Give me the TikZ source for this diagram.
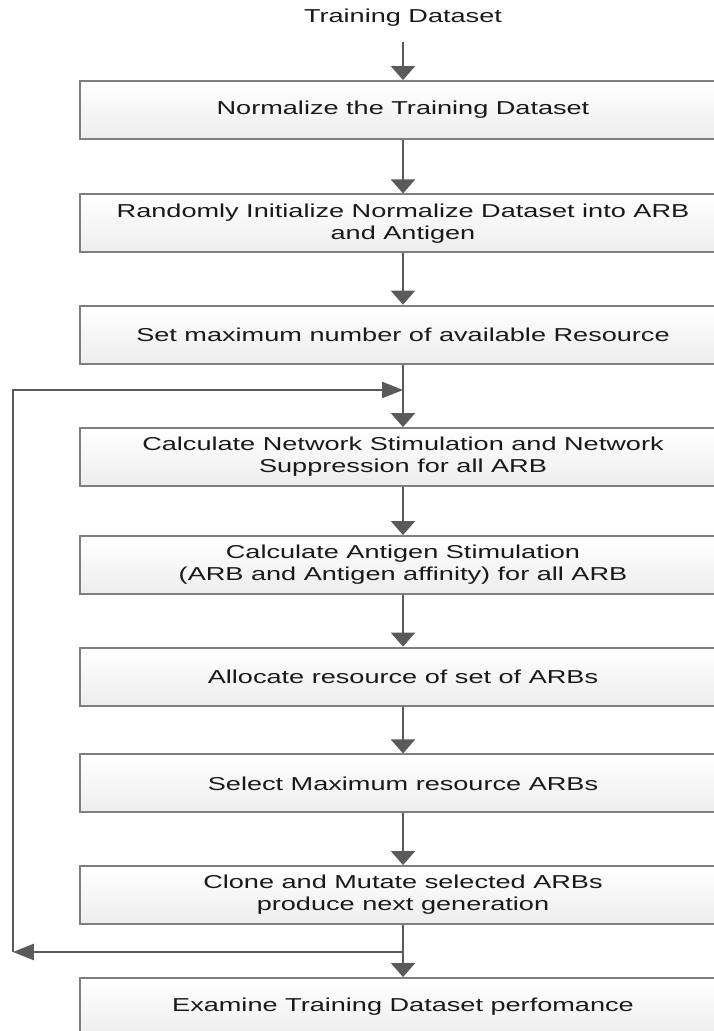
\documentclass[tikz,border=0pt]{standalone}
\usepackage{fontspec}
\setmainfont{Liberation Sans}[FakeStretch=1.45]
\usetikzlibrary{arrows.meta,shadings}
\definecolor{linegray}{HTML}{5A5A5A}
\definecolor{boxgray}{HTML}{7F7F7F}

\begin{document}
\begin{tikzpicture}
           [box/.style={draw=boxgray,line width=1.3pt,top color=white,bottom color=gray!14,
              minimum width=16.15cm,minimum height=1.45cm,align=center,
              font=\fontsize{13.3}{15.8}\selectfont,text=black!90},
            arrv/.style={draw=linegray,line width=1.4pt,-{Triangle[length=0.35cm,width=0.6cm]}},
            arrh/.style={draw=linegray,line width=1.4pt,-{Triangle[length=0.52cm,width=0.4cm]}}]
           \useasboundingbox (0,0) rectangle (17.85,25.775);

           \node[font=\fontsize{13.3}{15.8}\selectfont,text=black!90] (train) at (10.075,25.325) {Training Dataset};

           \node[box] (norm) at (10.075,23.025) {Normalize the Training Dataset};
           \node[box] (init) at (10.075,20.19) {Randomly Initialize Normalize Dataset into ARB\\and Antigen};
           \node[box] (setres) at (10.075,17.41) {Set maximum number of available Resource};
           \node[box] (netstim) at (10.075,14.35) {Calculate Network Stimulation and Network\\Suppression for all ARB};
           \node[box] (agstim) at (10.075,11.65) {Calculate Antigen Stimulation\\(ARB and Antigen affinity) for all ARB};
           \node[box] (alloc) at (10.075,8.86) {Allocate resource of set of ARBs};
           \node[box] (select) at (10.075,6.19) {Select Maximum resource ARBs};
           \node[box] (clone) at (10.075,3.4) {Clone and Mutate selected ARBs\\produce next generation};
           \node[box] (exam) at (10.075,0.6) {Examine Training Dataset perfomance};

           % loop corners
           \coordinate (jtop) at (10.075,16.025);
           \coordinate (jbot) at (10.075,1.975);
           \coordinate (ltop) at (0.325,16.025);
           \coordinate (lbot) at (0.325,1.975);

           \draw[arrv] ([yshift=-0.25cm]train.south) -- (norm);
           \draw[arrv] (norm) -- (init);
           \draw[arrv] (init) -- (setres);
           \draw[arrv] (setres) -- (netstim);
           \draw[arrv] (netstim) -- (agstim);
           \draw[arrv] (agstim) -- (alloc);
           \draw[arrv] (alloc) -- (select);
           \draw[arrv] (select) -- (clone);
           \draw[arrv] (clone) -- (exam);

           \draw[arrh] (jbot) -- (lbot);
           \draw[arrh] (lbot) -- (ltop) -- (jtop);
         \end{tikzpicture}
\end{document}
